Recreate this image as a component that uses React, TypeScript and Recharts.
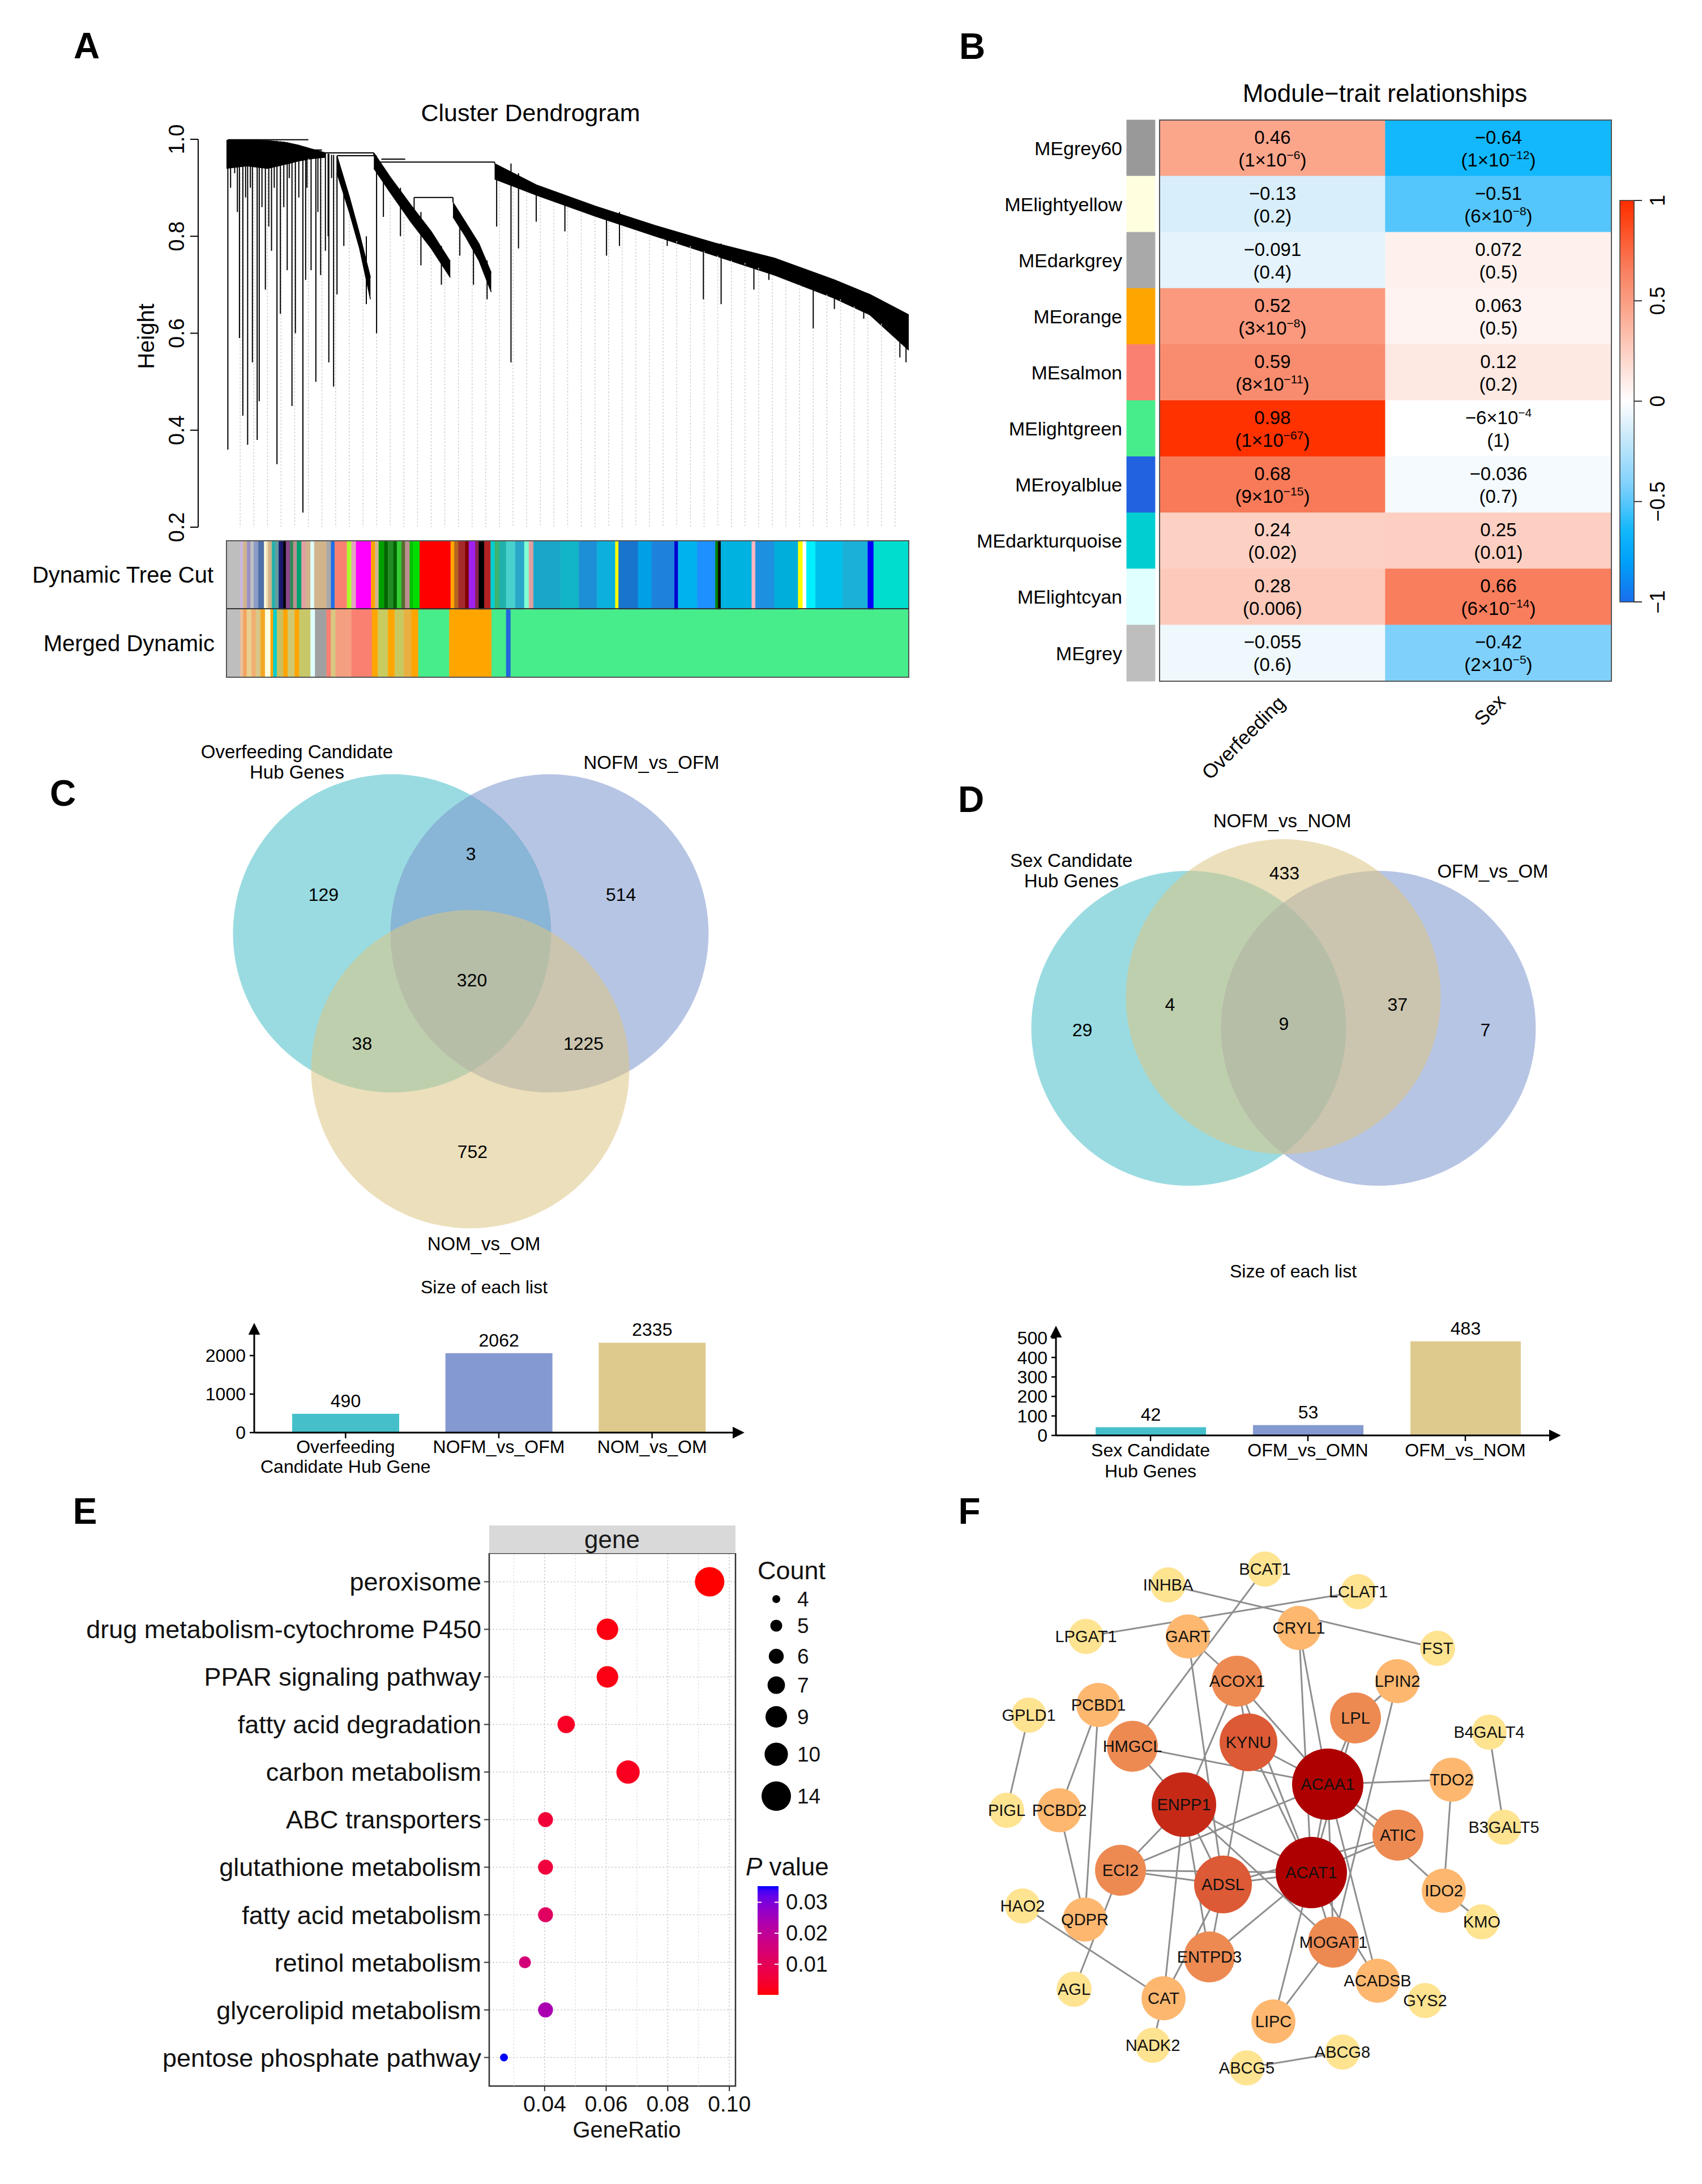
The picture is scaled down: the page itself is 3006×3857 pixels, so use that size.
import React from "react";
import {
  ComposedChart,
  Area,
  BarChart,
  Bar,
  ScatterChart,
  Scatter,
  XAxis,
  YAxis,
  ZAxis,
  CartesianGrid,
  ReferenceLine,
  ReferenceArea,
  LabelList,
  Cell,
} from "recharts";

const FONT = "'Liberation Sans', Arial, Helvetica, sans-serif";

// ---------- A: cluster dendrogram (leaf position 0-100, height) ----------
const heightTicks = [0.2, 0.4, 0.6, 0.8, 1.0];

// dense branch regions: [leaf, low, high]
const dendroBands = [
  [[0, 0.94, 0.998], [3, 0.945, 0.998], [6, 0.94, 0.997], [8.5, 0.948, 0.994], [10.5, 0.955, 0.988], [12.5, 0.96, 0.98], [14.5, 0.963, 0.972]],
  [[16.2, 0.93, 0.966], [18, 0.85, 0.882], [19.5, 0.775, 0.805], [21.1, 0.67, 0.715]],
  [[21.6, 0.94, 0.972], [24, 0.89, 0.922], [27, 0.83, 0.865], [30, 0.775, 0.81], [32.8, 0.715, 0.748]],
  [[33.2, 0.84, 0.87], [35, 0.8, 0.83], [37, 0.75, 0.785], [38.8, 0.685, 0.725]],
  [[39.3, 0.918, 0.95], [45.4, 0.885, 0.906], [54.1, 0.841, 0.862], [62.9, 0.8, 0.822], [71.6, 0.76, 0.786], [80.3, 0.72, 0.755], [89.1, 0.672, 0.71], [94.3, 0.638, 0.68], [100, 0.565, 0.638]],
];

// single leaves hanging down: [leaf, top, bottom]
const dendroDrops = [
  [0.2, 0.998, 0.36], [0.6, 0.998, 0.9], [1.2, 0.998, 0.93], [1.6, 0.998, 0.85], [1.9, 0.998, 0.59],
  [2.4, 0.998, 0.43], [2.8, 0.998, 0.88], [3.1, 0.998, 0.37], [3.5, 0.998, 0.9], [3.8, 0.998, 0.54],
  [4.5, 0.998, 0.38], [4.8, 0.998, 0.46], [5.2, 0.998, 0.86], [5.7, 0.998, 0.69], [6.2, 0.997, 0.82],
  [6.6, 0.997, 0.77], [7.0, 0.997, 0.9], [7.4, 0.997, 0.33], [7.9, 0.996, 0.64], [8.4, 0.995, 0.86],
  [8.9, 0.994, 0.73], [9.2, 0.993, 0.92], [9.6, 0.99, 0.45], [10.1, 0.989, 0.6], [10.6, 0.987, 0.88],
  [11.2, 0.985, 0.23], [11.6, 0.984, 0.71], [11.8, 0.983, 0.9], [12.4, 0.98, 0.73], [13.1, 0.978, 0.5],
  [13.4, 0.977, 0.85], [13.8, 0.976, 0.72], [14.5, 0.972, 0.77], [14.9, 0.97, 0.8], [15.0, 0.97, 0.54],
  [15.4, 0.968, 0.92], [15.7, 0.968, 0.49], [16.2, 0.966, 0.68], [17.2, 0.91, 0.78], [20.5, 0.8, 0.66],
  [22.0, 0.965, 0.6], [23.0, 0.93, 0.84], [25.5, 0.9, 0.8], [28.5, 0.85, 0.74], [31.5, 0.78, 0.7],
  [34.2, 0.84, 0.76], [36.2, 0.8, 0.7], [38.2, 0.75, 0.67], [39.6, 0.93, 0.82],
  [41.7, 0.95, 0.54], [42.8, 0.93, 0.775], [45.4, 0.905, 0.83], [49.6, 0.88, 0.81], [55.7, 0.855, 0.76],
  [57.6, 0.85, 0.78], [64.6, 0.815, 0.78], [69.9, 0.79, 0.67], [72.5, 0.785, 0.66], [77.3, 0.76, 0.69],
  [79.5, 0.75, 0.71], [86.0, 0.72, 0.61], [89.1, 0.71, 0.65], [93.4, 0.68, 0.63], [98.7, 0.64, 0.55],
  [99.6, 0.63, 0.54],
];

// merge brackets: [x1, y1, x2, y2]
const dendroLinks = [
  [0.2, 0.999, 12, 0.999],
  [12.2, 0.978, 14, 0.978],
  [12.5, 0.972, 21.6, 0.972],
  [16.2, 0.966, 22.0, 0.966],
  [22.0, 0.953, 39.3, 0.953],
  [22.7, 0.959, 26.2, 0.959],
  [27.5, 0.88, 33.2, 0.88],
  [27.5, 0.88, 27.5, 0.85],
  [33.2, 0.88, 33.2, 0.87],
  [39.3, 0.953, 39.3, 0.95],
  [12.5, 0.972, 12.5, 0.98],
  [21.6, 0.972, 21.6, 0.966],
];

// faint leaf stems: [leaf, top]
const dendroStems = [
  [2, 0.93], [4, 0.93], [6, 0.93], [8, 0.94], [10, 0.95], [12, 0.96], [14, 0.96], [16, 0.93], [18, 0.84],
  [20, 0.72], [22, 0.93], [24, 0.88], [26, 0.84], [28, 0.8], [30, 0.77], [32, 0.72], [34, 0.82], [36, 0.77],
  [38, 0.7], [40, 0.91], [42, 0.9], [44, 0.89], [46, 0.88], [48, 0.87], [50, 0.86], [52, 0.85], [54, 0.84],
  [56, 0.83], [58, 0.82], [60, 0.81], [62, 0.8], [64, 0.795], [66, 0.79], [68, 0.78], [70, 0.77], [72, 0.76],
  [74, 0.75], [76, 0.745], [78, 0.735], [80, 0.72], [82, 0.71], [84, 0.7], [86, 0.69], [88, 0.68], [90, 0.67],
  [92, 0.655], [94, 0.64], [96, 0.62], [98, 0.59],
];

// module colour strips: segment end (leaf units) and colour
const treeCutEnds = [2, 2.47, 3, 3.53, 4, 4.67, 5.53, 5.8, 6.13, 6.67, 7.13, 7.67, 8.33, 8.73, 9.33, 9.8, 10.33, 11, 11.67, 12.33, 12.87, 14.67, 15.33, 15.87, 17.67, 18.33, 19, 21.2, 21.8, 22.33, 23.13, 23.67, 24.47, 25, 25.67, 26.2, 26.87, 27.4, 28.33, 32.87, 33.4, 34, 35, 35.53, 36.47, 37, 37.8, 38.73, 39.33, 40, 41, 42.33, 43.67, 44.33, 45, 49, 51.67, 54.33, 57, 57.47, 60.33, 62.33, 65.67, 66.2, 69, 71.67, 72.07, 72.47, 77, 77.53, 80.33, 83.8, 84.47, 85, 86.33, 90.33, 94, 94.87, 100];
const treeCutColors = ["#BEBEBE", "#C9B8D8", "#D2B48C", "#9A8FC8", "#C0C0C0", "#8C9CC8", "#4F6FA8", "#FFFFE0", "#F5DEB3", "#D2B48C", "#20B2AA", "#5F9EA0", "#191970", "#000000", "#8B4789", "#2E8B57", "#BC8F8F", "#00A070", "#E0A0A0", "#D2B48C", "#E0FFFF", "#D2B48C", "#A9A9A9", "#1E6FE8", "#FA8072", "#ADFF2F", "#E6A0C0", "#FF00FF", "#FFA500", "#D2B48C", "#00A000", "#006400", "#228B22", "#006400", "#32CD32", "#556B2F", "#BC8F8F", "#00C000", "#00DD00", "#FF0000", "#FFA500", "#B5651D", "#A52A2A", "#800000", "#A020F0", "#8B2252", "#000000", "#B22222", "#00CED1", "#3CB371", "#20B2AA", "#48D1CC", "#2AA7C8", "#7FFFD4", "#E0A0A0", "#19A6C8", "#12B5C8", "#1C8FD6", "#0BB0DC", "#FFFF00", "#1874CD", "#00A0E6", "#1E82DC", "#0000CD", "#00B2EE", "#1E90FF", "#008000", "#000000", "#00B2E0", "#FFB6C1", "#1E90E0", "#00AEDC", "#FFFF00", "#FFFFFF", "#00F0FF", "#00BFEA", "#1AB0D8", "#0000FF", "#00DDCF"];
const mergedEnds = [2, 2.47, 3, 3.67, 4.33, 5, 5.67, 6.47, 6.87, 7.4, 8.33, 9, 10, 10.67, 12.33, 13, 14.67, 15.33, 16, 18.33, 21.33, 22.2, 23.67, 24.67, 26, 27.13, 28.13, 32.67, 38.87, 41, 41.67, 100];
const mergedColors = ["#BEBEBE", "#E8C0A0", "#F4A460", "#E8D090", "#F0B070", "#D8C888", "#F5A623", "#FFFFE0", "#FFA500", "#00CED1", "#C8C060", "#FFA500", "#D0C870", "#FFA500", "#C8C868", "#E0FFFF", "#A0A0A0", "#FA8072", "#D8C880", "#F4A080", "#FA8072", "#FFA500", "#C8CC60", "#FFA500", "#C8C860", "#E8B040", "#FFA500", "#47EC8B", "#FFA500", "#47EC8B", "#2266DD", "#47EC8B"];

// ---------- B: module-trait heatmap ----------
const modules = ["MEgrey60", "MElightyellow", "MEdarkgrey", "MEorange", "MEsalmon", "MElightgreen", "MEroyalblue", "MEdarkturquoise", "MElightcyan", "MEgrey"];
const moduleColors = ["#999999", "#FFFFE0", "#A9A9A9", "#FFA500", "#FA8072", "#47EC8B", "#2262E0", "#00CED1", "#E0FFFF", "#BEBEBE"];
const traits = ["Overfeeding", "Sex"];
const corOverfeeding = [0.46, -0.13, -0.091, 0.52, 0.59, 0.98, 0.68, 0.24, 0.28, -0.055];
const pOverfeeding = [1e-6, 0.2, 0.4, 3e-8, 8e-11, 1e-67, 9e-15, 0.02, 0.006, 0.6];
const corSex = [-0.64, -0.51, 0.072, 0.063, 0.12, -0.0006, -0.036, 0.25, 0.66, -0.42];
const pSex = [1e-12, 6e-8, 0.5, 0.5, 0.2, 1, 0.7, 0.01, 6e-14, 2e-5];
const corrTicks = [1, 0.5, 0, -0.5, -1];

// ---------- C / D: Venn diagrams and list sizes ----------
const vennCSets = ["Overfeeding Candidate\nHub Genes", "NOFM_vs_OFM", "NOM_vs_OM"];
const vennCCounts = [129, 3, 514, 320, 38, 1225, 752];
const vennDSets = ["Sex Candidate\nHub Genes", "NOFM_vs_NOM", "OFM_vs_OM"];
const vennDCounts = [29, 433, 7, 9, 4, 37];
const sizeCNames = ["Overfeeding\nCandidate Hub Gene", "NOFM_vs_OFM", "NOM_vs_OM"];
const sizeCValues = [490, 2062, 2335];
const sizeDNames = ["Sex Candidate\nHub Genes", "OFM_vs_OMN", "OFM_vs_NOM"];
const sizeDValues = [42, 53, 483];
const setColors = ["#45C0CB", "#8499D0", "#DFCA8E"];

// ---------- E: KEGG enrichment ----------
const pathways = ["peroxisome", "drug metabolism-cytochrome P450", "PPAR signaling pathway", "fatty acid degradation", "carbon metabolism", "ABC transporters", "glutathione metabolism", "fatty acid metabolism", "retinol metabolism", "glycerolipid metabolism", "pentose phosphate pathway"];
const geneRatio = [0.0936, 0.0604, 0.0604, 0.047, 0.0671, 0.0403, 0.0403, 0.0403, 0.0336, 0.0403, 0.0268];
const geneCount = [14, 9, 9, 7, 10, 6, 6, 6, 5, 6, 4];
const pValue = [0.0001, 0.0012, 0.0013, 0.003, 0.0025, 0.0055, 0.006, 0.0115, 0.015, 0.024, 0.0352];
const ratioTicks = [0.04, 0.06, 0.08, 0.1];
const ratioMinor = [0.03, 0.05, 0.07, 0.09];
const countBreaks = [4, 5, 6, 7, 9, 10, 14];
const pBreaks = [0.01, 0.02, 0.03];

// ---------- F: PPI network ----------
const nodes = [
  { name: "BCAT1", x: 534, y: 71, level: 0 }, { name: "INHBA", x: 363, y: 99, level: 0 },
  { name: "LCLAT1", x: 699, y: 111, level: 0 }, { name: "LPGAT1", x: 218, y: 190, level: 0 },
  { name: "GART", x: 398, y: 190, level: 1 }, { name: "CRYL1", x: 594, y: 175, level: 1 },
  { name: "FST", x: 839, y: 211, level: 0 }, { name: "ACOX1", x: 485, y: 269, level: 2 },
  { name: "LPIN2", x: 768, y: 269, level: 1 }, { name: "GPLD1", x: 117, y: 329, level: 0 },
  { name: "PCBD1", x: 240, y: 311, level: 1 }, { name: "LPL", x: 694, y: 334, level: 2 },
  { name: "B4GALT4", x: 930, y: 359, level: 0 }, { name: "HMGCL", x: 300, y: 384, level: 2 },
  { name: "KYNU", x: 505, y: 377, level: 3 }, { name: "ACAA1", x: 645, y: 451, level: 5 },
  { name: "TDO2", x: 864, y: 443, level: 1 }, { name: "ENPP1", x: 391, y: 487, level: 4 },
  { name: "PIGL", x: 78, y: 497, level: 0 }, { name: "PCBD2", x: 171, y: 497, level: 1 },
  { name: "B3GALT5", x: 956, y: 527, level: 0 }, { name: "ATIC", x: 769, y: 541, level: 2 },
  { name: "ECI2", x: 279, y: 603, level: 2 }, { name: "ADSL", x: 460, y: 628, level: 3 },
  { name: "ACAT1", x: 616, y: 607, level: 5 }, { name: "IDO2", x: 850, y: 639, level: 1 },
  { name: "HAO2", x: 106, y: 666, level: 0 }, { name: "QDPR", x: 216, y: 690, level: 1 },
  { name: "KMO", x: 917, y: 694, level: 0 }, { name: "MOGAT1", x: 655, y: 730, level: 2 },
  { name: "ENTPD3", x: 436, y: 756, level: 2 }, { name: "ACADSB", x: 733, y: 798, level: 1 },
  { name: "AGL", x: 197, y: 813, level: 0 }, { name: "GYS2", x: 817, y: 833, level: 0 },
  { name: "CAT", x: 355, y: 829, level: 1 }, { name: "LIPC", x: 549, y: 870, level: 1 },
  { name: "NADK2", x: 336, y: 912, level: 0 }, { name: "ABCG8", x: 671, y: 924, level: 0 },
  { name: "ABCG5", x: 502, y: 952, level: 0 },
];
const edges = [
  ["INHBA", "FST"], ["LPGAT1", "LCLAT1"], ["BCAT1", "HMGCL"], ["GART", "ACOX1"], ["GART", "ADSL"],
  ["CRYL1", "ACAA1"], ["CRYL1", "ACAT1"], ["ACOX1", "ENPP1"], ["ACOX1", "ACAA1"], ["ACOX1", "ACAT1"],
  ["ACOX1", "KYNU"], ["LPIN2", "LPL"], ["LPIN2", "MOGAT1"], ["LPL", "ACAA1"], ["LPL", "ACAT1"],
  ["GPLD1", "PIGL"], ["PCBD1", "PCBD2"], ["PCBD1", "QDPR"], ["PCBD2", "QDPR"], ["HMGCL", "ENPP1"],
  ["HMGCL", "ACAA1"], ["KYNU", "ACAA1"], ["KYNU", "ADSL"], ["KYNU", "ACAT1"], ["ACAA1", "TDO2"],
  ["ACAA1", "ATIC"], ["ACAA1", "IDO2"], ["ACAA1", "ECI2"], ["ACAA1", "ACAT1"], ["ACAA1", "MOGAT1"],
  ["ACAA1", "ACADSB"], ["ENPP1", "ACAT1"], ["ENPP1", "ECI2"], ["ENPP1", "ADSL"], ["ENPP1", "ENTPD3"],
  ["ENPP1", "CAT"], ["ENPP1", "MOGAT1"], ["ATIC", "ACAT1"], ["ATIC", "ADSL"], ["ECI2", "ADSL"],
  ["ECI2", "ACAT1"], ["ECI2", "AGL"], ["ADSL", "ACAT1"], ["ADSL", "ENTPD3"], ["ADSL", "CAT"],
  ["ACAT1", "ENTPD3"], ["ACAT1", "LIPC"], ["ACAT1", "MOGAT1"], ["ACAT1", "ACADSB"], ["TDO2", "IDO2"],
  ["IDO2", "KMO"], ["B4GALT4", "B3GALT5"], ["HAO2", "CAT"], ["CAT", "NADK2"], ["MOGAT1", "LIPC"],
  ["ABCG5", "ABCG8"],
];

// ---------- colour helpers ----------
const corrStops: [number, number[]][] = [
  [-1, [25, 110, 235]], [-0.8, [0, 160, 250]], [-0.64, [18, 184, 251]], [-0.5, [90, 199, 251]],
  [-0.42, [127, 209, 252]], [-0.13, [216, 238, 251]], [0, [255, 255, 255]], [0.25, [252, 207, 194]],
  [0.46, [251, 165, 139]], [0.6, [249, 138, 108]], [0.68, [249, 122, 88]], [0.98, [255, 50, 0]], [1, [255, 45, 0]],
];
function corrColor(v: number) {
  for (let k = 1; k < corrStops.length; k++) {
    const [v1, c1] = corrStops[k];
    const [v0, c0] = corrStops[k - 1];
    if (v <= v1) {
      const t = (v - v0) / (v1 - v0);
      const c = c0.map((a, j) => Math.round(a + (c1[j] - a) * t));
      return `rgb(${c[0]},${c[1]},${c[2]})`;
    }
  }
  return "rgb(255,45,0)";
}

const lin = (c: number) => {
  c /= 255;
  return c <= 0.04045 ? c / 12.92 : Math.pow((c + 0.055) / 1.055, 2.4);
};
const delin = (c: number) => {
  const v = c <= 0.0031308 ? 12.92 * c : 1.055 * Math.pow(c, 1 / 2.4) - 0.055;
  return Math.round(Math.min(1, Math.max(0, v)) * 255);
};
function toLab(rgb: number[]) {
  const [R, G, B] = rgb.map(lin);
  const X = (0.4124 * R + 0.3576 * G + 0.1805 * B) / 0.95047;
  const Y = 0.2126 * R + 0.7152 * G + 0.0722 * B;
  const Z = (0.0193 * R + 0.1192 * G + 0.9505 * B) / 1.08883;
  const f = (t: number) => (t > 0.008856 ? Math.cbrt(t) : 7.787 * t + 16 / 116);
  return [116 * f(Y) - 16, 500 * (f(X) - f(Y)), 200 * (f(Y) - f(Z))];
}
function fromLab([L, a, b]: number[]) {
  const fy = (L + 16) / 116;
  const fx = fy + a / 500;
  const fz = fy - b / 200;
  const finv = (t: number) => (t * t * t > 0.008856 ? t * t * t : (t - 16 / 116) / 7.787);
  const X = finv(fx) * 0.95047;
  const Y = finv(fy);
  const Z = finv(fz) * 1.08883;
  const r = 3.2406 * X - 1.5372 * Y - 0.4986 * Z;
  const g = -0.9689 * X + 1.8758 * Y + 0.0415 * Z;
  const bl = 0.0557 * X - 0.204 * Y + 1.057 * Z;
  return `rgb(${delin(r)},${delin(g)},${delin(bl)})`;
}
const labLow = toLab([255, 0, 0]);
const labHigh = toLab([0, 0, 255]);
const pMin = Math.min(...pValue);
const pMax = Math.max(...pValue);
function pColor(p: number) {
  const t = (p - pMin) / (pMax - pMin);
  return fromLab(labLow.map((v, j) => v + (labHigh[j] - v) * t));
}

const sizeRange = [154, 2124];
const countDomain = [4, 14];
const countRadius = (c: number) =>
  Math.sqrt((sizeRange[0] + ((c - countDomain[0]) / (countDomain[1] - countDomain[0])) * (sizeRange[1] - sizeRange[0])) / Math.PI);

// ---------- small helpers ----------
function Pos({ x, y, children }: any) {
  return <div style={{ position: "absolute", left: x, top: y }}>{children}</div>;
}

function sci(v: number) {
  const [m, e] = v.toExponential(0).split("e");
  return [m.replace("-", "−"), e.replace("+", "").replace("-", "−")];
}

function SciText({ x, y, v, open, close, sci: useSci }: any) {
  if (!useSci) {
    return (
      <text x={x} y={y} textAnchor="middle" fontSize={33} fill="#000">
        {open + String(v).replace("-", "−") + close}
      </text>
    );
  }
  const [m, e] = sci(v);
  return (
    <text x={x} y={y} textAnchor="middle" fontSize={33} fill="#000">
      {open + m + "×10"}
      <tspan dy={-13} fontSize={21}>{e}</tspan>
      <tspan dy={13}>{close}</tspan>
    </text>
  );
}

function HeatText(props: any) {
  const { x, y, width, height, value, cor, pv } = props;
  const cx = x + width / 2;
  const cy = y + height / 2;
  const r = cor[value];
  const p = pv[value];
  return (
    <g>
      <SciText x={cx} y={cy - 8} v={r} open="" close="" sci={Math.abs(r) < 0.001} />
      <SciText x={cx} y={cy + 32} v={p} open="(" close=")" sci={p < 0.001} />
    </g>
  );
}

const HeightTick = ({ x, y, payload }: any) => {
  const cx = x - 22;
  return (
    <text x={cx} y={y} transform={`rotate(-90, ${cx}, ${y})`} textAnchor="middle" dominantBaseline="central" fontSize={38} fill="#000">
      {payload.value.toFixed(1)}
    </text>
  );
};

// ---------- Panel A ----------
const dendroData = dendroBands.flatMap((band, k) => band.map(([x, lo, hi]) => ({ x, ["b" + k]: [lo, hi] })));

function Dendrogram() {
  return (
    <Pos x={200} y={200}>
      <ComposedChart width={1420} height={760} data={dendroData} margin={{ top: 46, right: 15, bottom: 29, left: 0 }}>
        <XAxis type="number" dataKey="x" domain={[-4.15, 100]} hide />
        <YAxis
          type="number"
          domain={[0.2, 1]}
          ticks={heightTicks}
          width={150}
          tickSize={14}
          interval={0}
          tick={<HeightTick />}
          axisLine={{ stroke: "#000", strokeWidth: 2 }}
          tickLine={{ stroke: "#000", strokeWidth: 2 }}
        />
        {dendroStems.map(([x, top], k) => (
          <ReferenceLine key={"s" + k} segment={[{ x, y: top }, { x, y: 0.2 }]} stroke="#CFCFCF" strokeWidth={1.5} strokeDasharray="3 3" />
        ))}
        {dendroBands.map((_, k) => (
          <Area key={"b" + k} type="linear" dataKey={"b" + k} stroke="#000" strokeWidth={1.5} fill="#000" fillOpacity={1} dot={false} activeDot={false} isAnimationActive={false} />
        ))}
        {dendroDrops.map(([x, top, bottom], k) => (
          <ReferenceLine key={"d" + k} segment={[{ x, y: top }, { x, y: bottom }]} stroke="#000" strokeWidth={2} />
        ))}
        {dendroLinks.map(([x1, y1, x2, y2], k) => (
          <ReferenceLine key={"l" + k} segment={[{ x: x1, y: y1 }, { x: x2, y: y2 }]} stroke="#000" strokeWidth={2} />
        ))}
      </ComposedChart>
    </Pos>
  );
}

const widthsOf = (ends: number[]) => ends.map((e, k) => e - (k === 0 ? 0 : ends[k - 1]));
const treeCutWidths = widthsOf(treeCutEnds);
const mergedWidths = widthsOf(mergedEnds);
const stripRows = [
  Object.fromEntries([["row", "Dynamic Tree Cut"], ...treeCutWidths.map((w, k) => ["s" + k, w])]),
  Object.fromEntries([["row", "Merged Dynamic"], ...mergedWidths.map((w, k) => ["s" + k, w])]),
];
const stripCount = Math.max(treeCutWidths.length, mergedWidths.length);

function ModuleStrips() {
  return (
    <Pos x={400} y={955}>
      <BarChart layout="vertical" width={1205} height={241} data={stripRows} margin={{ top: 0, right: 0, bottom: 0, left: 0 }} barCategoryGap={0}>
        <XAxis type="number" domain={[0, 100]} hide />
        <YAxis type="category" dataKey="row" hide />
        {Array.from({ length: stripCount }, (_, k) => (
          <Bar key={k} dataKey={"s" + k} stackId="m" isAnimationActive={false}>
            <Cell fill={treeCutColors[k] || "none"} stroke={treeCutColors[k] || "none"} strokeWidth={0.6} />
            <Cell fill={mergedColors[k] || "none"} stroke={mergedColors[k] || "none"} strokeWidth={0.6} />
          </Bar>
        ))}
      </BarChart>
    </Pos>
  );
}

// ---------- Panel B ----------
const heatRows = modules.map((m, i) => ({ module: m, i, c: 0.125, g: 0.02, ov: 1, sx: 1 }));

function Heatmap() {
  return (
    <Pos x={1700} y={150}>
      <BarChart layout="vertical" width={1200} height={1200} data={heatRows} margin={{ top: 62, right: 54, bottom: 147, left: 0 }} barCategoryGap={0}>
        <XAxis type="number" domain={[0, 2.145]} hide />
        <YAxis type="category" dataKey="module" width={290} tickLine={false} axisLine={false} interval={0} tick={{ fontSize: 34, fill: "#000" }} />
        <Bar dataKey="c" stackId="h" isAnimationActive={false}>
          {modules.map((m, i) => (
            <Cell key={m} fill={moduleColors[i]} stroke={moduleColors[i]} />
          ))}
        </Bar>
        <Bar dataKey="g" stackId="h" fill="none" isAnimationActive={false} />
        <Bar dataKey="ov" stackId="h" isAnimationActive={false}>
          {modules.map((m, i) => (
            <Cell key={m} fill={corrColor(corOverfeeding[i])} stroke={corrColor(corOverfeeding[i])} />
          ))}
          <LabelList dataKey="i" content={(p: any) => <HeatText {...p} cor={corOverfeeding} pv={pOverfeeding} />} />
        </Bar>
        <Bar dataKey="sx" stackId="h" isAnimationActive={false}>
          {modules.map((m, i) => (
            <Cell key={m} fill={corrColor(corSex[i])} stroke={corrColor(corSex[i])} />
          ))}
          <LabelList dataKey="i" content={(p: any) => <HeatText {...p} cor={corSex} pv={pSex} />} />
        </Bar>
      </BarChart>
    </Pos>
  );
}

// ---------- Venn ----------
function Venn({ cx0, cy0, unit, xDomain, yDomain, circles, counts, sets }: any) {
  const left = cx0 + xDomain[0] * unit;
  const top = cy0 - yDomain[1] * unit;
  const w = (xDomain[1] - xDomain[0]) * unit;
  const h = (yDomain[1] - yDomain[0]) * unit;
  return (
    <Pos x={left} y={top}>
      <ScatterChart width={w} height={h} margin={{ top: 0, right: 0, bottom: 0, left: 0 }}>
        <XAxis type="number" dataKey="x" domain={xDomain} hide />
        <YAxis type="number" dataKey="y" domain={yDomain} hide />
        <Scatter
          data={circles}
          isAnimationActive={false}
          shape={(p: any) => <circle cx={p.cx} cy={p.cy} r={p.payload.r * unit} fill={p.payload.color} fillOpacity={0.55} />}
        />
        <Scatter
          data={counts}
          isAnimationActive={false}
          shape={(p: any) => (
            <text x={p.cx} y={p.cy + 11} textAnchor="middle" fontSize={32} fill="#000">
              {p.payload.n}
            </text>
          )}
        />
        <Scatter
          data={sets}
          isAnimationActive={false}
          shape={(p: any) => {
            const lines = p.payload.label.split("\n");
            const off = (lines.length - 1) * 18;
            return (
              <text textAnchor="middle" fontSize={33} fill="#000">
                {lines.map((l: string, k: number) => (
                  <tspan key={k} x={p.cx} y={p.cy - off + k * 36 + 11}>
                    {l}
                  </tspan>
                ))}
              </text>
            );
          }}
        />
      </ScatterChart>
    </Pos>
  );
}

const vennCCircles = [
  { x: 0, y: 0, r: 1, color: "#47BDC8" },
  { x: 0.989, y: 0, r: 1, color: "#7C95CE" },
  { x: 0.491, y: -0.854, r: 1, color: "#DCC484" },
];
const vennCCountPos = [[-0.431, 0.242], [0.495, 0.498], [1.438, 0.242], [0.502, -0.295], [-0.189, -0.694], [1.203, -0.694], [0.505, -1.374]];
const vennCSetPos = [[-0.598, 1.075], [1.63, 1.071], [0.577, -1.954]];

const vennDCircles = [
  { x: 0, y: 0, r: 1, color: "#47BDC8" },
  { x: 1.205, y: 0, r: 1, color: "#7C95CE" },
  { x: 0.601, y: 0.201, r: 1, color: "#DCC484" },
];
const vennDCountPos = [[-0.676, -0.011], [0.608, 0.986], [1.885, -0.011], [0.604, 0.029], [-0.119, 0.151], [1.327, 0.151]];
const vennDSetPos = [[-0.745, 1.0], [0.594, 1.317], [1.932, 0.996]];

// ---------- size bars ----------
const SetTick = ({ x, y, payload, first, gap }: any) => {
  const lines = String(payload.value).split("\n");
  return (
    <g>
      {lines.map((l, k) => (
        <text key={k} x={x} y={y + first + k * gap} textAnchor="middle" fontSize={32} fill="#000">
          {l}
        </text>
      ))}
    </g>
  );
};

function SizeBars({ id, x, y, width, height, margin, yWidth, names, values, domain, ticks, pad, barSize, first, gap }: any) {
  const rows = names.map((n: string, i: number) => ({ name: n, size: values[i] }));
  return (
    <Pos x={x} y={y}>
      <BarChart width={width} height={height} data={rows} margin={margin}>
        <defs>
          <marker id={id} viewBox="0 0 10 10" refX="2" refY="5" markerWidth="7" markerHeight="7" orient="auto-start-reverse" markerUnits="strokeWidth">
            <path d="M0,0 L10,5 L0,10 z" fill="#000" />
          </marker>
        </defs>
        <XAxis
          dataKey="name"
          padding={pad}
          height={60}
          tickSize={10}
          interval={0}
          tick={<SetTick first={first} gap={gap} />}
          axisLine={{ stroke: "#000", strokeWidth: 3, markerEnd: `url(#${id})` }}
          tickLine={{ stroke: "#000", strokeWidth: 2.5 }}
        />
        <YAxis
          type="number"
          domain={domain}
          ticks={ticks}
          width={yWidth}
          tickSize={8}
          tickMargin={7}
          interval={0}
          tick={{ fontSize: 32, fill: "#000" }}
          axisLine={{ stroke: "#000", strokeWidth: 3, markerStart: `url(#${id})` }}
          tickLine={{ stroke: "#000", strokeWidth: 2.5 }}
        />
        <Bar dataKey="size" barSize={barSize} isAnimationActive={false}>
          {rows.map((r: any, i: number) => (
            <Cell key={r.name} fill={setColors[i]} />
          ))}
          <LabelList dataKey="size" position="top" offset={12} fontSize={32} fill="#000" />
        </Bar>
      </BarChart>
    </Pos>
  );
}

// ---------- Panel E ----------
const enrichRows = pathways.map((name, i) => ({ name, x: geneRatio[i], y: i, z: geneCount[i], p: pValue[i] }));

function Enrichment() {
  return (
    <Pos x={100} y={2743}>
      <ScatterChart width={1260} height={1051} margin={{ top: 0, right: 61, bottom: 0, left: 0 }}>
        <CartesianGrid stroke="#CFCFCF" strokeDasharray="3 3" strokeWidth={1.5} />
        {ratioMinor.map((v) => (
          <ReferenceLine key={v} x={v} stroke="#DEDEDE" strokeDasharray="3 3" strokeWidth={1.2} />
        ))}
        <XAxis
          type="number"
          dataKey="x"
          domain={[0.022, 0.102]}
          ticks={ratioTicks}
          interval={0}
          tickFormatter={(v: number) => v.toFixed(2)}
          height={110}
          tickSize={9}
          tickMargin={8}
          axisLine={false}
          tickLine={{ stroke: "#333", strokeWidth: 2 }}
          tick={{ fontSize: 39, fill: "#111" }}
        />
        <YAxis
          type="number"
          dataKey="y"
          domain={[-0.6, 10.6]}
          reversed
          ticks={pathways.map((_, i) => i)}
          interval={0}
          tickFormatter={(i: number) => pathways[i]}
          width={764}
          tickSize={9}
          tickMargin={5}
          axisLine={false}
          tickLine={{ stroke: "#333", strokeWidth: 2 }}
          tick={{ fontSize: 45, fill: "#111" }}
        />
        <ZAxis type="number" dataKey="z" domain={countDomain} range={sizeRange} />
        <ReferenceArea x1={0.022} x2={0.102} y1={-0.6} y2={10.6} fill="none" stroke="#333" strokeWidth={2.5} />
        <Scatter data={enrichRows} isAnimationActive={false}>
          {enrichRows.map((r) => (
            <Cell key={r.name} fill={pColor(r.p)} />
          ))}
        </Scatter>
      </ScatterChart>
    </Pos>
  );
}

// ---------- Panel F ----------
const nodeRadius = [31, 39, 45, 51, 57, 63];
const nodeFill = ["#FEE391", "#FDB76F", "#EC8A52", "#DC5A35", "#C62A17", "#AE0000"];
const nodeByName = Object.fromEntries(nodes.map((n) => [n.name, n]));

function Network() {
  return (
    <Pos x={1700} y={2700}>
      <ScatterChart width={1100} height={1000} margin={{ top: 0, right: 0, bottom: 0, left: 0 }}>
        <XAxis type="number" dataKey="x" domain={[0, 1100]} hide />
        <YAxis type="number" dataKey="y" domain={[0, 1000]} reversed hide />
        {edges.map(([a, b], k) => (
          <Scatter
            key={"e" + k}
            data={[nodeByName[a], nodeByName[b]]}
            line={{ stroke: "#8E8E8E", strokeWidth: 3 }}
            shape={() => <g />}
            isAnimationActive={false}
          />
        ))}
        <Scatter
          data={nodes}
          isAnimationActive={false}
          shape={(p: any) => (
            <g>
              <circle cx={p.cx} cy={p.cy} r={nodeRadius[p.payload.level]} fill={nodeFill[p.payload.level]} />
              <text x={p.cx} y={p.cy + 10} textAnchor="middle" fontSize={29} fill="#111">
                {p.payload.name}
              </text>
            </g>
          )}
        />
      </ScatterChart>
    </Pos>
  );
}

// ---------- loose text, legends, colour bars ----------
function Overlay() {
  const cbTop = 354;
  const cbH = 709;
  const corrY = (v: number) => cbTop + ((1 - v) / 2) * cbH;
  const pbTop = 3331;
  const pbH = 192;
  const pY = (p: number) => pbTop + pbH - ((p - pMin) / (pMax - pMin)) * pbH;
  const countY = [2824, 2871, 2925, 2976, 3032, 3098, 3172];
  const letters = [["A", 153, 103], ["B", 1717, 104], ["C", 111, 1423], ["D", 1715, 1434], ["E", 150, 2691], ["F", 1712, 2691]];
  return (
    <svg width={3006} height={3857} style={{ position: "absolute", left: 0, top: 0, pointerEvents: "none" }} fontFamily={FONT}>
      <defs>
        <linearGradient id="corrGrad" x1="0" y1="0" x2="0" y2="1">
          {Array.from({ length: 41 }, (_, k) => (
            <stop key={k} offset={k / 40} stopColor={corrColor(1 - (2 * k) / 40)} />
          ))}
        </linearGradient>
        <linearGradient id="pGrad" x1="0" y1="0" x2="0" y2="1">
          {Array.from({ length: 21 }, (_, k) => (
            <stop key={k} offset={k / 20} stopColor={pColor(pMax - ((pMax - pMin) * k) / 20)} />
          ))}
        </linearGradient>
      </defs>

      {letters.map(([t, x, y]) => (
        <text key={t as string} x={x as number} y={y as number} textAnchor="middle" fontSize={64} fontWeight="bold" fill="#000">
          {t}
        </text>
      ))}

      {/* A */}
      <text x={937} y={214} textAnchor="middle" fontSize={43} fill="#000">Cluster Dendrogram</text>
      <text x={258} y={594} transform="rotate(-90, 258, 594)" textAnchor="middle" dominantBaseline="central" fontSize={40} fill="#000">Height</text>
      <text x={377} y={1015} textAnchor="end" dominantBaseline="central" fontSize={40} fill="#000">Dynamic Tree Cut</text>
      <text x={379} y={1136} textAnchor="end" dominantBaseline="central" fontSize={40} fill="#000">Merged Dynamic</text>
      <rect x={400} y={955} width={1205} height={241} fill="none" stroke="#555" strokeWidth={2} />
      <line x1={400} x2={1605} y1={1075} y2={1075} stroke="#333" strokeWidth={2} />

      {/* B */}
      <text x={2446} y={180} textAnchor="middle" fontSize={44} fill="#000">Module−trait relationships</text>
      <rect x={2048} y={212} width={798} height={991} fill="none" stroke="#555" strokeWidth={2} />
      <text x={2272} y={1244} transform="rotate(-45, 2272, 1244)" textAnchor="end" fontSize={35} fill="#000">{traits[0]}</text>
      <text x={2661} y={1241} transform="rotate(-45, 2661, 1241)" textAnchor="end" fontSize={35} fill="#000">{traits[1]}</text>
      <rect x={2861} y={cbTop} width={25} height={cbH} fill="url(#corrGrad)" stroke="#333" strokeWidth={1.5} />
      {corrTicks.map((v) => (
        <g key={v}>
          <line x1={2886} x2={2900} y1={corrY(v)} y2={corrY(v)} stroke="#333" strokeWidth={2} />
          <text x={2927} y={corrY(v)} transform={`rotate(-90, 2927, ${corrY(v)})`} textAnchor="middle" dominantBaseline="central" fontSize={36} fill="#000">
            {String(v).replace("-", "−")}
          </text>
        </g>
      ))}

      {/* C, D */}
      <text x={855} y={2284} textAnchor="middle" fontSize={32} fill="#000">Size of each list</text>
      <text x={2284} y={2256} textAnchor="middle" fontSize={32} fill="#000">Size of each list</text>

      {/* E */}
      <rect x={864} y={2694} width={435} height={49} fill="#D9D9D9" />
      <text x={1081} y={2734} textAnchor="middle" fontSize={44} fill="#1A1A1A">gene</text>
      <text x={1107} y={3775} textAnchor="middle" fontSize={40} fill="#111">GeneRatio</text>
      <text x={1338} y={2789} fontSize={45} fill="#111">Count</text>
      {countBreaks.map((c, k) => (
        <g key={c}>
          <circle cx={1371} cy={countY[k]} r={countRadius(c)} fill="#000" />
          <text x={1408} y={countY[k] + 13} fontSize={37} fill="#111">{c}</text>
        </g>
      ))}
      <text x={1317} y={3312} fontSize={44} fill="#111">
        <tspan fontStyle="italic">P</tspan> value
      </text>
      <rect x={1338} y={pbTop} width={37} height={pbH} fill="url(#pGrad)" />
      {pBreaks.map((p) => (
        <g key={p}>
          <line x1={1338} x2={1345} y1={pY(p)} y2={pY(p)} stroke="#fff" strokeWidth={2} />
          <line x1={1368} x2={1375} y1={pY(p)} y2={pY(p)} stroke="#fff" strokeWidth={2} />
          <text x={1388} y={pY(p) + 13} fontSize={38} fill="#111">{p.toFixed(2)}</text>
        </g>
      ))}
    </svg>
  );
}

export default function App() {
  const cCounts = vennCCounts.map((n, k) => ({ n, x: vennCCountPos[k][0], y: vennCCountPos[k][1] }));
  const cSets = vennCSets.map((label, k) => ({ label, x: vennCSetPos[k][0], y: vennCSetPos[k][1] }));
  const dCounts = vennDCounts.map((n, k) => ({ n, x: vennDCountPos[k][0], y: vennDCountPos[k][1] }));
  const dSets = vennDSets.map((label, k) => ({ label, x: vennDSetPos[k][0], y: vennDSetPos[k][1] }));
  return (
    <div style={{ position: "absolute", left: 0, top: 0, width: 3006, height: 3857, background: "#fff", fontFamily: FONT, overflow: "hidden" }}>
      <Dendrogram />
      <ModuleStrips />
      <Heatmap />
      <Venn cx0={692} cy0={1648} unit={281} xDomain={[-1.5, 2.5]} yDomain={[-2.1, 1.3]} circles={vennCCircles} counts={cCounts} sets={cSets} />
      <Venn cx0={2099} cy0={1816} unit={278} xDomain={[-1.3, 2.5]} yDomain={[-1.2, 1.5]} circles={vennDCircles} counts={dCounts} sets={dSets} />
      <SizeBars
        id="arrC"
        x={250}
        y={2280}
        width={1150}
        height={360}
        margin={{ top: 73, right: 102, bottom: 50, left: 0 }}
        yWidth={199}
        names={sizeCNames}
        values={sizeCValues}
        domain={[0, 2603]}
        ticks={[0, 1000, 2000]}
        pad={{ left: 26, right: 11 }}
        barSize={189}
        first={24}
        gap={35}
      />
      <SizeBars
        id="arrD"
        x={1650}
        y={2280}
        width={1200}
        height={360}
        margin={{ top: 78, right: 110, bottom: 45, left: 0 }}
        yWidth={215}
        names={sizeDNames}
        values={sizeDValues}
        domain={[0, 514]}
        ticks={[0, 100, 200, 300, 400, 500]}
        pad={{ left: 28, right: 13 }}
        barSize={195}
        first={25}
        gap={37}
      />
      <Enrichment />
      <Network />
      <Overlay />
    </div>
  );
}
